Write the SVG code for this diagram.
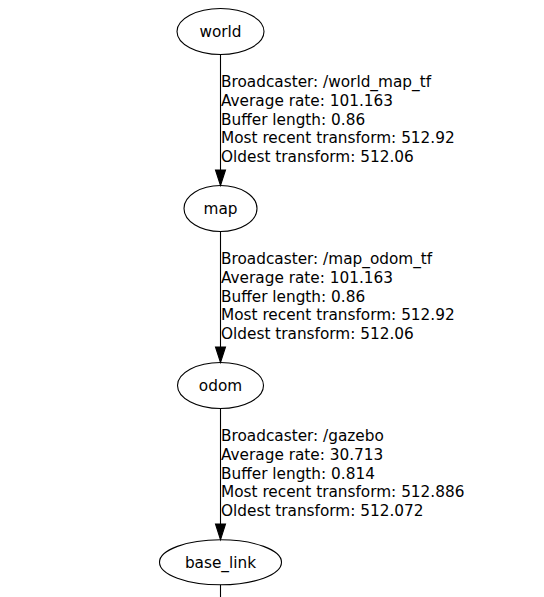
<svg xmlns="http://www.w3.org/2000/svg" width="544" height="597" viewBox="0 0 544 597">
<style>
text{font-family:"DejaVu Sans",sans-serif;font-size:15.3px;fill:#000}
.n ellipse{fill:none;stroke:#000;stroke-width:1.1}
.n text{text-anchor:middle}
.e line{stroke:#000;stroke-width:1.1}
.e polygon{fill:#000;stroke:#000;stroke-width:1.1}
</style>
<rect width="544" height="597" fill="#fff"/>
<g id="nodes">
<g id="world" class="n"><ellipse cx="220.5" cy="31.5" rx="43.5" ry="23"/><text x="220.5" y="37">world</text></g>
<g id="map" class="n"><ellipse cx="220.5" cy="208.5" rx="36.5" ry="23"/><text x="220.5" y="214">map</text></g>
<g id="odom" class="n"><ellipse cx="220.5" cy="385.5" rx="43" ry="23"/><text x="220.5" y="391">odom</text></g>
<g id="base_link" class="n"><ellipse cx="220.5" cy="562.3" rx="61" ry="22.5"/><text x="220.5" y="567.8">base_link</text></g>
</g>
<g id="connectors" class="e">
<line x1="220.5" y1="54.5" x2="220.5" y2="170"/><polygon points="215.5,170 225.5,170 220.5,185.5"/>
<line x1="220.5" y1="231.5" x2="220.5" y2="347"/><polygon points="215.5,347 225.5,347 220.5,362.5"/>
<line x1="220.5" y1="408.5" x2="220.5" y2="524"/><polygon points="215.5,524 225.5,524 220.5,539.8"/>
<line x1="220.5" y1="584.8" x2="220.5" y2="597"/>
</g>
<g id="labels">
<text x="221" y="87">Broadcaster: /world_map_tf</text>
<text x="221" y="105.8">Average rate: 101.163</text>
<text x="221" y="124.6">Buffer length: 0.86</text>
<text x="221" y="143.4">Most recent transform: 512.92</text>
<text x="221" y="162.2">Oldest transform: 512.06</text>
<text x="221" y="264">Broadcaster: /map_odom_tf</text>
<text x="221" y="282.8">Average rate: 101.163</text>
<text x="221" y="301.6">Buffer length: 0.86</text>
<text x="221" y="320.4">Most recent transform: 512.92</text>
<text x="221" y="339.2">Oldest transform: 512.06</text>
<text x="221" y="441">Broadcaster: /gazebo</text>
<text x="221" y="459.8">Average rate: 30.713</text>
<text x="221" y="478.6">Buffer length: 0.814</text>
<text x="221" y="497.4">Most recent transform: 512.886</text>
<text x="221" y="516.2">Oldest transform: 512.072</text>
</g>
</svg>
